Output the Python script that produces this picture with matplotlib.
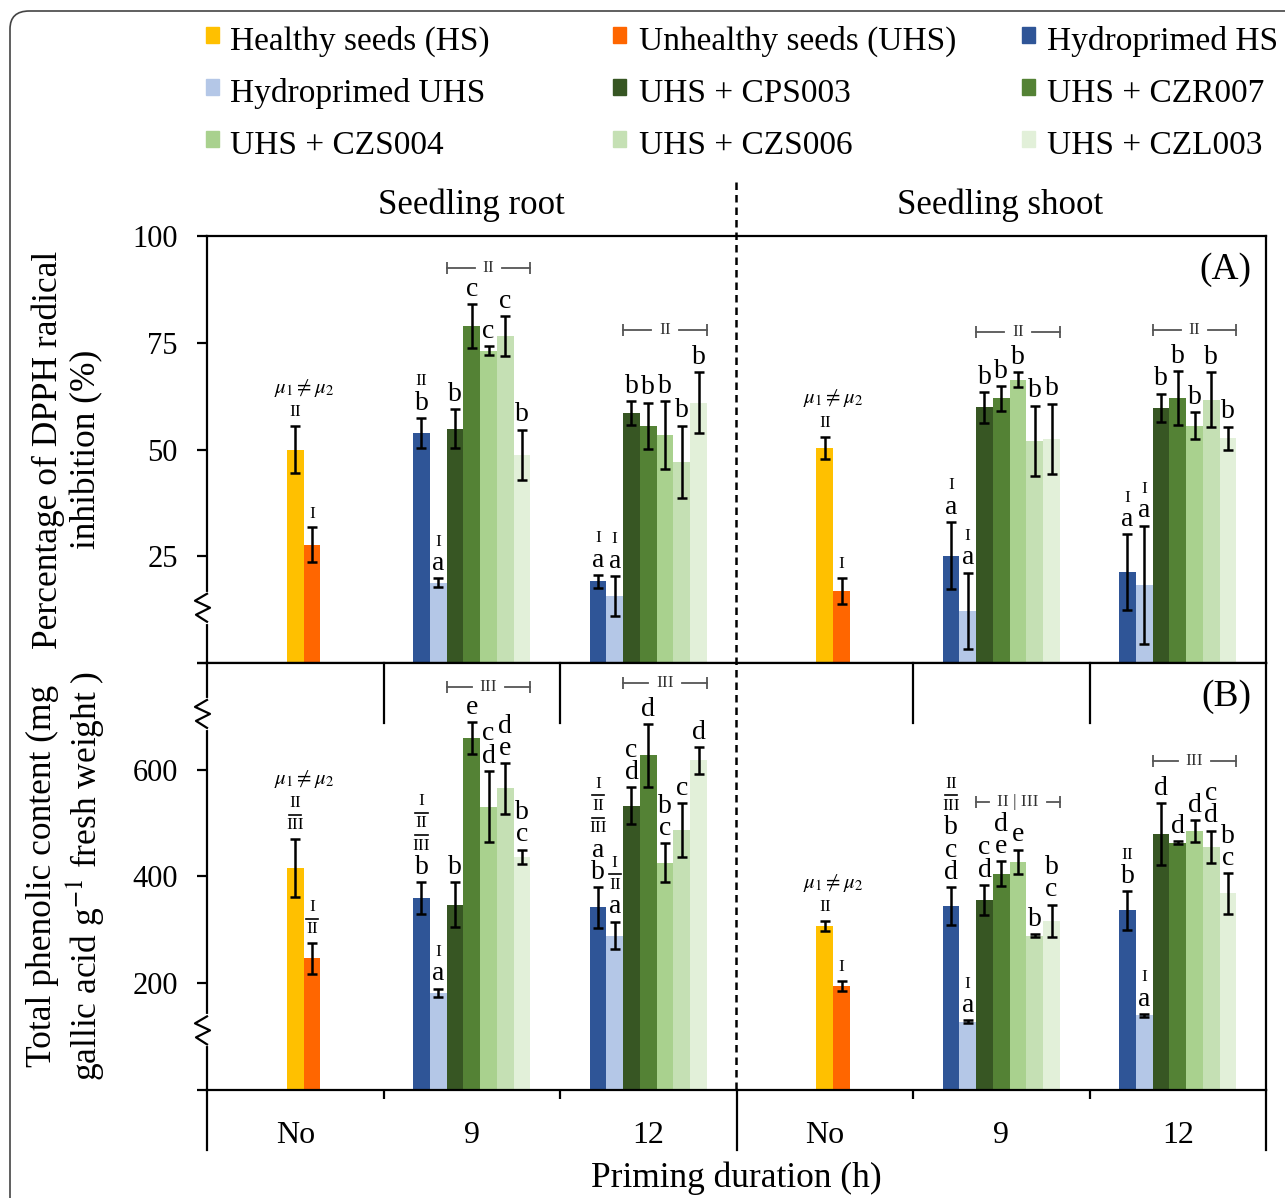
import numpy as np
import matplotlib
matplotlib.use("Agg")
import matplotlib.pyplot as plt
from matplotlib.patches import Rectangle, FancyBboxPatch
from matplotlib.lines import Line2D
from matplotlib.transforms import offset_copy, blended_transform_factory

plt.rcParams['font.family'] = 'Liberation Serif'
plt.rcParams['mathtext.fontset'] = 'stix'

series_names = ["Healthy seeds (HS)", "Unhealthy seeds (UHS)", "Hydroprimed HS",
                "Hydroprimed UHS", "UHS + CPS003", "UHS + CZR007",
                "UHS + CZS004", "UHS + CZS006", "UHS + CZL003"]
colors = ["#FFC000", "#FF6600", "#2F5597", "#B4C7E7", "#375623",
          "#548235", "#A9D18E", "#C5E0B4", "#E2F0D9"]
durations = ["No", "9", "12"]

# (A) DPPH radical inhibition (%), groups: No / 9 h / 12 h
dpph_root_mean = [[50.0, 27.7],
                  [53.9, 18.9, 54.9, 78.9, 73.2, 76.5, 48.8],
                  [19.2, 15.7, 58.5, 55.6, 53.4, 47.1, 61.0]]
dpph_root_sd = [[5.5, 4.1],
                [3.5, 1.0, 4.5, 5.1, 1.0, 4.7, 5.9],
                [1.5, 4.7, 2.8, 5.4, 8.0, 8.5, 7.1]]
dpph_shoot_mean = [[50.4, 16.9],
                   [25.2, 12.3, 59.9, 62.0, 66.4, 52.1, 52.5],
                   [21.3, 18.4, 59.8, 62.0, 55.6, 61.7, 52.7]]
dpph_shoot_sd = [[2.6, 3.1],
                 [7.9, 8.9, 3.6, 2.9, 1.7, 8.2, 8.3],
                 [8.9, 13.8, 3.3, 6.3, 3.2, 6.4, 2.7]]
dpph_root_letters = [["", ""], ["b", "a", "b", "c", "c", "c", "b"], ["a", "a", "b", "b", "b", "b", "b"]]
dpph_root_numerals = [["II", "I"], ["II", "I", "", "", "", "", ""], ["I", "I", "", "", "", "", ""]]
dpph_shoot_letters = [["", ""], ["a", "a", "b", "b", "b", "b", "b"], ["a", "a", "b", "b", "b", "b", "b"]]
dpph_shoot_numerals = [["II", "I"], ["I", "I", "", "", "", "", ""], ["I", "I", "", "", "", "", ""]]
dpph_brackets = [("II", 92.4), ("II", 77.9), ("II", 77.6), ("II", 78.1)]  # root 9, root 12, shoot 9, shoot 12

# (B) Total phenolic content
tpc_root_mean = [[416, 246],
                 [359, 181, 347, 660, 531, 565, 437],
                 [342, 289, 533, 627, 426, 487, 618]]
tpc_root_sd = [[54, 29],
               [30, 8, 42, 30, 67, 47, 13],
               [38, 26, 34, 59, 36, 50, 25]]
tpc_shoot_mean = [[307, 194],
                  [344, 127, 356, 405, 427, 289, 317],
                  [336, 139, 479, 463, 485, 456, 368]]
tpc_shoot_sd = [[9, 10],
                [36, 3, 28, 23, 23, 3, 30],
                [36, 3, 58, 3, 21, 30, 38]]
tpc_root_letters = [["", ""], ["b", "a", "b", "e", "cd", "de", "bc"], ["ab", "a", "cd", "d", "bc", "c", "d"]]
tpc_root_numerals = [["II/III", "I/II"], ["I/II/III", "I", "", "", "", "", ""],
                     ["I/II/III", "I/II", "", "", "", "", ""]]
tpc_shoot_letters = [["", ""], ["bcd", "a", "cd", "de", "e", "b", "bc"], ["b", "a", "d", "d", "d", "cd", "bc"]]
tpc_shoot_numerals = [["II", "I"], ["II/III", "I", "", "", "", "", ""], ["II", "I", "", "", "", "", ""]]
tpc_brackets = [("III", 755.6), ("III", 763.0), ("II | III", 540.0), ("III", 617.0)]

W, H = 1285, 1198
fig = plt.figure(figsize=(W / 100, H / 100), dpi=100)
renderer = fig.canvas.get_renderer()


def fx(px):
    return px / W


def fy(py):
    return 1 - py / H


left, right = 207, 1266
ax_a = fig.add_axes([fx(left), fy(663.3), fx(right - left), (663.3 - 236) / H])
ax_b = fig.add_axes([fx(left), fy(1089.5), fx(right - left), (1089.5 - 663.3) / H])

bw = 0.095  # bar width (group = 1 unit)
letter_fs = 20
letter_desc = 0.216 * letter_fs  # descent below baseline (points)


def stack_labels(ax, x, y, letters, numerals):
    top = None
    if letters:
        ax.text(x, y, "\n".join(letters),
                transform=offset_copy(ax.transData, fig=fig, y=6 - letter_desc, units='points'),
                ha='center', va='bottom', fontsize=letter_fs, linespacing=0.85)
        top = 6 + (len(letters) - 1) * 16
    if numerals:
        off = top + 17.5 if top is not None else 7
        parts = numerals.split('/')
        prev = None
        for p in reversed(parts):
            if prev is not None:
                ax.plot([x - 0.035, x + 0.035], [y, y], color='black', lw=1.2, clip_on=False,
                        transform=offset_copy(ax.transData, fig=fig, y=prev + 10.5, units='points'))
                off = prev + 16
            ax.text(x, y, p, transform=offset_copy(ax.transData, fig=fig, y=off, units='points'),
                    ha='center', va='baseline', fontsize=12.5)
            prev = off
        top = prev
    return top


def bracket(ax, x0, x1, yb, label):
    xc = (x0 + x1) / 2
    t = ax.text(xc, yb, label, ha='center', va='center', fontsize=12.5, color='#333333', zorder=5)
    bb = t.get_window_extent(renderer)
    px_per_unit = ax.transData.transform((1, 0))[0] - ax.transData.transform((0, 0))[0]
    gap = (bb.width / 2 + 8) / px_per_unit
    kw = dict(color='#555555', lw=1.3, clip_on=False, zorder=4)
    ax.plot([x0, xc - gap], [yb, yb], **kw)
    ax.plot([xc + gap, x1], [yb, yb], **kw)
    ax.plot([x0, x1], [yb, yb], ls='none', marker='|', markersize=9, mew=1.3,
            color='#555555', clip_on=False, zorder=4)


def draw_panel(ax, means, sds, letters, numerals, brackets):
    bi = 0
    for g in range(6):
        d = g % 3
        m = means[g // 3][d]
        s = sds[g // 3][d]
        center = g + 0.5
        if d == 0:
            idx = [0, 1]
            xs = center + np.arange(2) * bw
        else:
            idx = list(range(2, 9))
            xs = center + (np.arange(7) - 3) * bw
        ax.bar(xs, m, width=bw, color=[colors[i] for i in idx], edgecolor='none', zorder=2)
        ax.errorbar(xs, m, yerr=s, fmt='none', ecolor='black', elinewidth=1.8,
                    capsize=3.5, capthick=1.8, zorder=3)
        tops = []
        for k in range(len(xs)):
            t = stack_labels(ax, xs[k], m[k] + s[k], letters[g // 3][d][k], numerals[g // 3][d][k])
            tops.append(t)
        if d == 0:
            xm = center + bw / 2
            ax.text(xm, m[0] + s[0], r'$\mu_1 \neq \mu_2$',
                    transform=offset_copy(ax.transData, fig=fig, y=tops[0] + 17, units='points'),
                    ha='center', va='baseline', fontsize=15)
        else:
            label, yb = brackets[bi]
            bi += 1
            bracket(ax, xs[2] - bw / 2, xs[6] + bw / 2, yb, label)


for ax in (ax_a, ax_b):
    ax.set_xlim(0, 6)
    for sp in ax.spines.values():
        sp.set_linewidth(1.6)
    ax.tick_params(axis='y', length=7, width=1.6, pad=14, labelsize=22)

ax_a.set_ylim(0, 100)
ax_a.set_yticks([0, 25, 50, 75, 100], ['', '25', '50', '75', '100'])
ax_a.set_xticks([])

ax_b.set_ylim(0, 800)
ax_b.set_yticks([0, 200, 400, 600, 800], ['', '200', '400', '600', ''])
ax_b.set_xticks(np.arange(6) + 0.5, durations * 2)
ax_b.set_xticks([1, 2, 4, 5], minor=True)
ax_b.tick_params(axis='x', which='major', length=0, pad=23, labelsize=23)
ax_b.tick_params(axis='x', which='minor', length=6.5, width=1.6, direction='out')

draw_panel(ax_a, [dpph_root_mean, dpph_shoot_mean], [dpph_root_sd, dpph_shoot_sd],
           [dpph_root_letters, dpph_shoot_letters], [dpph_root_numerals, dpph_shoot_numerals], dpph_brackets)
draw_panel(ax_b, [tpc_root_mean, tpc_shoot_mean], [tpc_root_sd, tpc_shoot_sd],
           [tpc_root_letters, tpc_shoot_letters], [tpc_root_numerals, tpc_shoot_numerals], tpc_brackets)
ax_a.set_xlim(0, 6)
ax_a.set_ylim(0, 100)
ax_b.set_xlim(0, 6)
ax_b.set_ylim(0, 800)

bt = blended_transform_factory(ax_b.transData, ax_b.transAxes)
for xv in [0, 3, 6]:
    ax_b.plot([xv, xv], [0, -0.142], color='black', lw=1.6, transform=bt, clip_on=False)
for xv in [1, 2, 4, 5]:
    ax_b.plot([xv, xv], [1, 1 - 60 / 426.2], color='black', lw=1.6, transform=bt, clip_on=False)


def draw_break(ax, yval):
    x0, y0 = ax.transData.transform((0, yval))
    inv = fig.transFigure.inverted()
    (a0, b0), (a1, b1) = inv.transform([(x0, y0 - 14), (x0, y0 + 14)])
    fig.add_artist(Line2D([a0, a1], [b0, b1], color='white', lw=3, zorder=10))
    pts = [(0, 14), (-12, 7), (3, 0), (-11, -7), (0, -14)]
    fp = inv.transform([(x0 + dx, y0 + dy) for dx, dy in pts])
    fig.add_artist(Line2D(fp[:, 0], fp[:, 1], color='black', lw=1.6, zorder=11))


draw_break(ax_a, 13.0)
draw_break(ax_b, 705)
draw_break(ax_b, 111)

# dashed root/shoot divider
fig.add_artist(Line2D([fx(736), fx(736)], [fy(182), fy(1089.5)], color='black', lw=1.8,
                      linestyle=(0, (3, 2)), zorder=6))

fig.text(fx(471), fy(205), "Seedling root", ha='center', va='center', fontsize=25)
fig.text(fx(1000), fy(205), "Seedling shoot", ha='center', va='center', fontsize=25)
fig.text(fx(1251), fy(270), "(A)", ha='right', va='center', fontsize=27)
fig.text(fx(1251), fy(697), "(B)", ha='right', va='center', fontsize=27)
fig.text(fx(736), fy(1178), "Priming duration (h)", ha='center', va='center', fontsize=25.5)
fig.text(fx(67), fy(449.5), "Percentage of DPPH radical\ninhibition (%)", rotation=90,
         ha='center', va='center', fontsize=25.5, linespacing=1.2)
fig.text(fx(67), fy(876), "Total phenolic content (mg\ngallic acid g$^{-1}$ fresh weight )", rotation=90,
         ha='center', va='center', fontsize=25.5, linespacing=1.2)

# legend (3 x 3 grid)
patch_x = [206, 613, 1022]
text_x = [230, 639, 1047]
for i, (name, c) in enumerate(zip(series_names, colors)):
    row, col = divmod(i, 3)
    base = 50 + row * 52
    fig.add_artist(Rectangle((fx(patch_x[col]), fy(base - 7)), 13 / W, 16 / H,
                             transform=fig.transFigure, color=c))
    fig.text(fx(text_x[col]), fy(base), name, ha='left', va='baseline', fontsize=24)

# outer rounded frame
fig.add_artist(FancyBboxPatch((fx(10), -0.1), 1.2, fy(11) + 0.1,
                              boxstyle='round,pad=0,rounding_size=0.015',
                              transform=fig.transFigure, fill=False, ec='#444444', lw=1.2))

fig.savefig("out.png", dpi=100)
